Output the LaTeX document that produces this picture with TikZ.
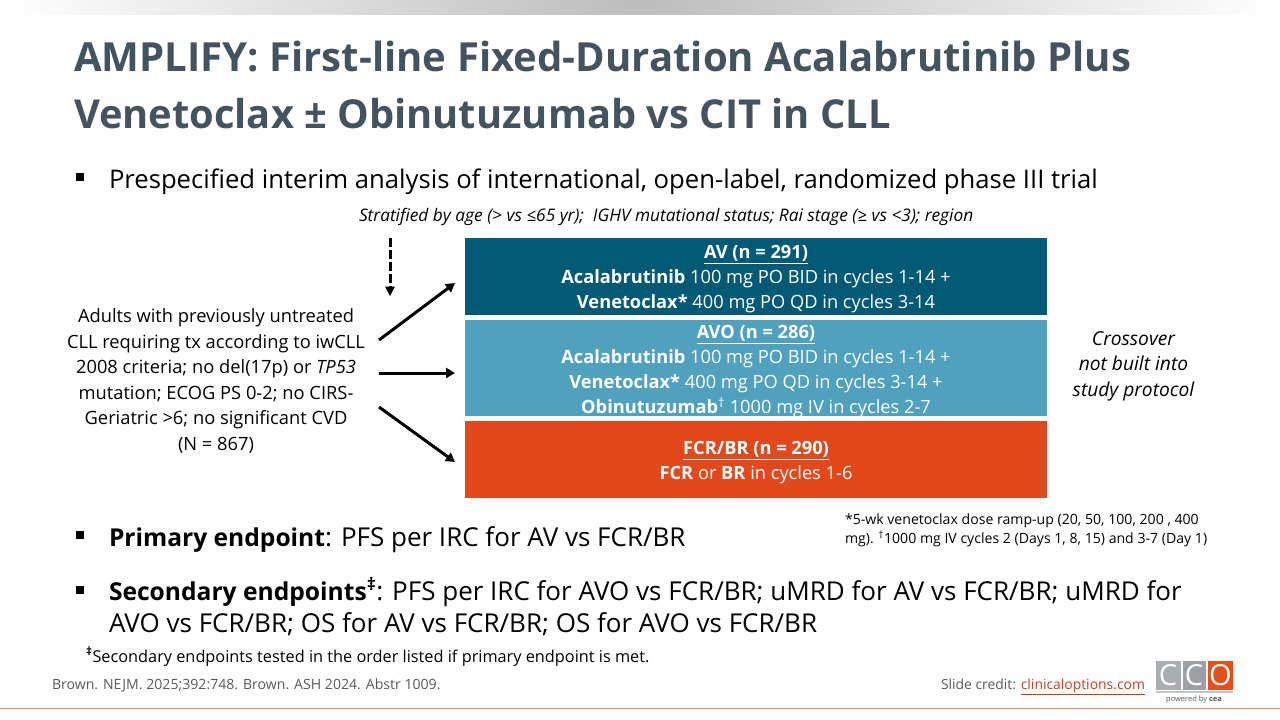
\documentclass[tikz,border=0pt]{standalone}
\usepackage{fontspec}
\setmainfont{Open Sans}
\usetikzlibrary{arrows.meta}
\definecolor{titlec}{HTML}{44545F}
\definecolor{avc}{HTML}{005A76}
\definecolor{avoc}{HTML}{4FA1BD}
\definecolor{fcrc}{HTML}{E1491D}
\definecolor{greyt}{HTML}{595959}
\definecolor{linkc}{HTML}{C5421B}
\definecolor{rulec}{HTML}{D98A6C}
\definecolor{logog}{HTML}{A9AEB1}
\newcommand{\bb}[1]{{\fontsize{24.6}{30}\selectfont\bfseries #1}}
\tikzset{
 lbl/.style={inner sep=0pt,outer sep=0pt,anchor=base west},
 bar/.style={inner sep=0pt,outer sep=0pt,anchor=north west},
 arr/.style={line width=3pt,black,-{Triangle[length=9pt,width=10pt]}},
 bul/.style={fill=black,inner sep=0pt,outer sep=0pt,minimum size=8pt},
 body/.style={font=\fontsize{25.65}{30}\selectfont},
 bodyb/.style={font=\fontsize{26}{30}\selectfont},
 ttl/.style={font=\fontsize{40.1}{47}\selectfont\bfseries,text=titlec},
 boxt/.style={font=\fontsize{18.25}{25}\selectfont,text=white,align=center,inner sep=0pt},
 side/.style={font=\fontsize{18.3}{25.5}\selectfont,align=center,inner sep=0pt},
 logol/.style={inner sep=0pt,text=white,font=\fontsize{29}{29}\selectfont},
}
\begin{document}
\begin{tikzpicture}[x=1pt,y=-1pt]
\useasboundingbox (0,0) rectangle (1280,720);
\fill[white] (0,0) rectangle (1280,720);
\shade[left color=white,right color=black!26,draw=none] (0,0) rectangle (640,14.5);
\shade[left color=black!26,right color=white,draw=none] (640,0) rectangle (1280,14.5);
% title
\node[lbl,ttl] (t1) at (74,71) {AMPLIFY: First-line Fixed-Duration Acalabrutinib Plus};
\node[lbl,ttl,font=\fontsize{39.85}{47}\selectfont\bfseries] (t2) at (74,128) {Venetoclax ± Obinutuzumab vs CIT in CLL};
% bullets
\node[bul] (b1) at (80,177) {};
\node[lbl,body] (l1) at (109,188) {Prespecified interim analysis of international, open-label, randomized phase III trial};
\node[lbl,font=\fontsize{17.3}{20}\selectfont\itshape] (strat) at (359,221) {Stratified by age (> vs ≤65 yr);\ \ IGHV mutational status; Rai stage (≥ vs <3); region};
% boxes
\node[bar,fill=avc,minimum width=582pt,minimum height=77pt] (av) at (465,238) {};
\node[bar,fill=avoc,minimum width=582pt,minimum height=96pt] (avo) at (465,320) {};
\node[bar,fill=fcrc,minimum width=582pt,minimum height=77pt] (fcr) at (465,421) {};
\node[boxt] (avt) at (756,279.5) {\underline{\textbf{AV (n = 291)}}\\\textbf{Acalabrutinib} 100 mg PO BID in cycles 1-14 +\\\textbf{Venetoclax*} 400 mg PO QD in cycles 3-14};
\node[boxt] (avot) at (756,371.5) {\underline{\textbf{AVO (n = 286)}}\\\textbf{Acalabrutinib} 100 mg PO BID in cycles 1-14 +\\\textbf{Venetoclax*} 400 mg PO QD in cycles 3-14 +\\\textbf{Obinutuzumab}\textsuperscript{†} 1000 mg IV in cycles 2-7};
\node[boxt] (fcrt) at (756,463) {\underline{\textbf{FCR/BR (n = 290)}}\\\textbf{FCR} or \textbf{BR} in cycles 1-6};
% left text
\node[side] (pop) at (216,381) {Adults with previously untreated\\CLL requiring tx according to iwCLL\\2008 criteria; no del(17p) or \textit{TP53}\\mutation; ECOG PS 0-2; no CIRS-\\Geriatric >6; no significant CVD\\(N = 867)};
\node[side,font=\fontsize{19.2}{25.5}\selectfont\itshape] (cross) at (1133.5,366) {Crossover\\not built into\\study protocol};
% arrows
\coordinate (d1) at (390,238); \coordinate (d2) at (390,296);
\draw[line width=3pt,dash pattern=on 9pt off 3pt,black] (d1) -- (390,287);
\fill[black] (385,286.5) -- (395,286.5) -- (390,296) -- cycle;
\coordinate (s1) at (379,340); \coordinate (e1) at (455,283);
\coordinate (s2) at (379,373); \coordinate (e2) at (455,373);
\coordinate (s3) at (379,407); \coordinate (e3) at (455,462);
\draw[arr] (s1) -- (e1);
\draw[arr] (s2) -- (e2);
\draw[arr] (s3) -- (e3);
% footnote
\node[lbl,align=left,font=\fontsize{14.1}{19}\selectfont,anchor=north west] (fn) at (845,514) {*5-wk venetoclax dose ramp-up (20, 50, 100, 200 , 400\\mg). \textsuperscript{†}1000 mg IV cycles 2 (Days 1, 8, 15) and 3-7 (Day 1)};
% endpoints
\node[bul] (b2) at (80,535) {};
\node[lbl,bodyb] (l2) at (109,546) {\bb{Primary endpoint}: PFS per IRC for AV vs FCR/BR};
\node[bul] (b3) at (80,590) {};
\node[lbl,bodyb] (l3) at (109,600) {\bb{Secondary endpoints\textsuperscript{‡}}: PFS per IRC for AVO vs FCR/BR; uMRD for AV vs FCR/BR; uMRD for};
\node[lbl,bodyb] (l4) at (109,632) {AVO vs FCR/BR; OS for AV vs FCR/BR; OS for AVO vs FCR/BR};
\node[lbl,font=\fontsize{16.3}{18}\selectfont] (sec) at (86,662) {\textsuperscript{\textbf{‡}}Secondary endpoints tested in the order listed if primary endpoint is met.};
\node[lbl,font=\fontsize{14.1}{16}\selectfont,text=greyt] (ref) at (52,689) {Brown. NEJM. 2025;392:748. Brown. ASH 2024. Abstr 1009.};
\node[lbl,font=\fontsize{13.9}{16}\selectfont,text=greyt] (cred) at (941,689) {Slide credit: \textcolor{linkc}{\underline{clinicaloptions.com}}};
% logo
\fill[logog] (1156,661) rectangle (1180.5,690);
\fill[logog!92!black] (1182.5,661) rectangle (1206,690);
\fill[fcrc!90!orange] (1208,661) rectangle (1233,690);
\node[logol] (c1) at (1168,675.5) {C};
\node[logol] (c2) at (1194,675.5) {C};
\node[logol] (c3) at (1220.5,675.5) {O};
\fill[logog!70!white] (1156,691) rectangle (1233,693);
\node[inner sep=0pt,font=\fontsize{7.5}{8}\selectfont,text=greyt] (pw) at (1194,699.5) {powered by \textbf{cea}};
\fill[rulec] (0,707.5) rectangle (1280,709);
\end{tikzpicture}
\end{document}
